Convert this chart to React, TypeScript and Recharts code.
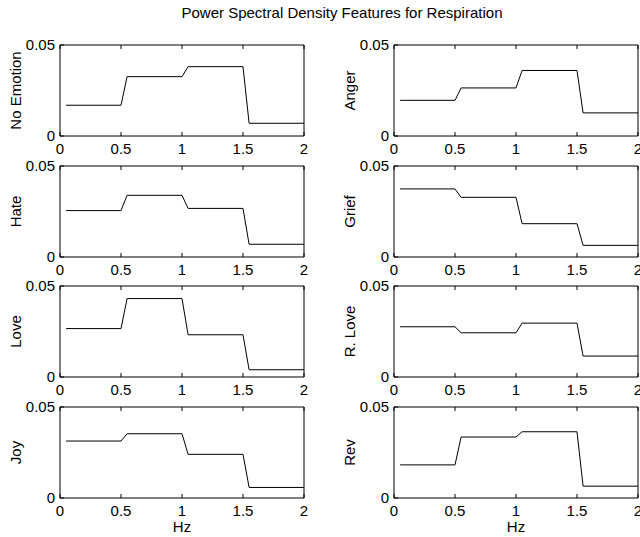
import React from 'react';
import { LineChart, Line, XAxis, YAxis } from 'recharts';

// band edges (Hz) where the PSD feature line bends
const freqs = [0.05, 0.5, 0.55, 1.0, 1.05, 1.5, 1.55, 2.0];

const noEmotion = [0.0169, 0.0169, 0.0326, 0.0326, 0.0381, 0.0381, 0.007, 0.007];
const anger = [0.0196, 0.0196, 0.0264, 0.0264, 0.036, 0.036, 0.0127, 0.0127];
const hate = [0.0255, 0.0255, 0.0339, 0.0339, 0.0267, 0.0267, 0.007, 0.007];
const grief = [0.0374, 0.0374, 0.0328, 0.0328, 0.0183, 0.0183, 0.0064, 0.0064];
const love = [0.0266, 0.0266, 0.0431, 0.0431, 0.0232, 0.0232, 0.004, 0.004];
const rLove = [0.0276, 0.0276, 0.0243, 0.0243, 0.0296, 0.0296, 0.0115, 0.0115];
const joy = [0.0313, 0.0313, 0.0353, 0.0353, 0.024, 0.024, 0.0058, 0.0058];
const rev = [0.0182, 0.0182, 0.0335, 0.0335, 0.0364, 0.0364, 0.0065, 0.0065];

const panelNames = ['No Emotion', 'Anger', 'Hate', 'Grief', 'Love', 'R. Love', 'Joy', 'Rev'];
const panelValues = [noEmotion, anger, hate, grief, love, rLove, joy, rev];

const xTicks = [0, 0.5, 1, 1.5, 2];
const yTicks = [0, 0.05];

const FONT = "'Liberation Sans', Arial, Helvetica, sans-serif";
const tickStyle = { fontSize: 15, fill: '#000', fontFamily: FONT };

const rowTops = [35, 156, 276, 397];
const colLefts = [0, 334];

const YName = (props: any) => {
  const { viewBox, value } = props;
  const cx = viewBox.x + 15;
  const cy = viewBox.y + viewBox.height / 2;
  return (
    <text
      x={cx}
      y={cy}
      transform={`rotate(-90, ${cx}, ${cy})`}
      textAnchor="middle"
      dominantBaseline="central"
      fontSize={15}
      fontFamily={FONT}
      fill="#000"
    >
      {value}
    </text>
  );
};

const XName = (props: any) => {
  const { viewBox, value } = props;
  return (
    <text
      x={viewBox.x + viewBox.width / 2}
      y={viewBox.y + 34}
      textAnchor="middle"
      fontSize={15}
      fontFamily={FONT}
      fill="#000"
    >
      {value}
    </text>
  );
};

const Panel = ({ name, values, left, top, last }: any) => {
  const data = freqs.map((f, i) => ({ f, v: values[i] }));
  return (
    <div style={{ position: 'absolute', left, top }}>
      <LineChart
        width={320}
        height={last ? 140 : 121}
        data={data}
        margin={{ top: 9, right: 15, bottom: last ? 19 : 0, left: 0 }}
      >
        <XAxis
          dataKey="f"
          type="number"
          domain={[0, 2]}
          ticks={xTicks}
          interval={0}
          height={20}
          tickSize={-4}
          tickMargin={11}
          tick={tickStyle}
          stroke="#000"
          label={last ? { value: 'Hz', content: XName } : undefined}
        />
        <XAxis
          xAxisId="top"
          orientation="top"
          dataKey="f"
          type="number"
          domain={[0, 2]}
          ticks={xTicks}
          interval={0}
          height={1}
          tickSize={-4}
          tickFormatter={() => ''}
          stroke="#000"
        />
        <YAxis
          domain={[0, 0.05]}
          ticks={yTicks}
          interval={0}
          width={60}
          tickSize={-4}
          tickMargin={9}
          tick={tickStyle}
          stroke="#000"
          label={{ value: name, content: YName }}
        />
        <YAxis
          yAxisId="right"
          orientation="right"
          domain={[0, 0.05]}
          ticks={yTicks}
          width={1}
          tickLine={false}
          tickFormatter={() => ''}
          stroke="#000"
        />
        <Line
          dataKey="v"
          type="linear"
          stroke="#000"
          strokeWidth={1}
          dot={false}
          isAnimationActive={false}
        />
      </LineChart>
    </div>
  );
};

export default function App() {
  return (
    <div
      style={{
        position: 'absolute',
        left: 0,
        top: 0,
        width: 640,
        height: 537,
        overflow: 'hidden',
        background: '#fff',
      }}
    >
      <svg width={640} height={30} style={{ position: 'absolute', left: 0, top: 0 }}>
        <text x={342} y={17.5} textAnchor="middle" fontSize={15} fontFamily={FONT} fill="#000">
          Power Spectral Density Features for Respiration
        </text>
      </svg>
      {panelNames.map((name, i) => (
        <Panel
          key={name}
          name={name}
          values={panelValues[i]}
          left={colLefts[i % 2]}
          top={rowTops[Math.floor(i / 2)]}
          last={Math.floor(i / 2) === 3}
        />
      ))}
    </div>
  );
}
